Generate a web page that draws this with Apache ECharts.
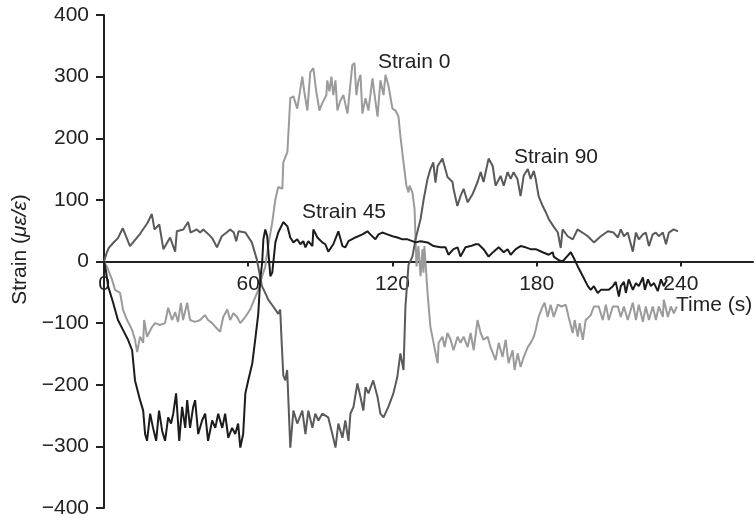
<!DOCTYPE html>
<html><head><meta charset="utf-8">
<script src="https://cdn.jsdelivr.net/npm/echarts@6/dist/echarts.min.js"></script>
<style>html,body{margin:0;padding:0;background:#fff}#c{width:755px;height:517px}</style>
</head><body><div id="c"></div>
<script>
// ---- data ----
const xTickValues = [0, 60, 120, 180, 240];
const seriesNames = ['Strain 0', 'Strain 90', 'Strain 45'];

const timeS0 = [0,1.2,3.3,4.6,6.7,7.9,9.6,11.7,12.9,13.8,15,16.3,16.7,17.9,20,21.3,23.3,25.4,26.7,28.3,29.6,30.8,32,32.9,34.6,35.8,37.9,40,42,43.3,45,46.3,48.3,49.6,51.3,52.5,53.8,55.4,56.7,58.8,60.8,62.5,64.2,65.8,67.1,68.3,70,71.3,72.5,74.2,74.6,76.3,77.5,78.8,80.4,82.5,83.3,84.6,85.8,87.1,88.3,89.6,90.8,92.5,92.9,93.8,94.6,95.4,96.3,97.1,98.3,99.6,101.3,103.3,104.2,105,105.8,106.7,107.5,108.8,110,111.7,112.1,113.8,115,116.3,117.1,118.3,120,121.3,122.5,123.3,124.6,125.8,126.7,127.1,128.3,129.2,130,130.8,131.7,132.5,132.9,133.3,134.6,135.8,137.1,138.8,139.2,140.8,141.7,142.9,144.2,145.4,147.1,148.3,149.6,151.3,152.5,153.8,155.4,156.7,157.9,159.6,160.8,162.9,164.2,165.8,167.1,168.3,170,170.8,172.1,173.3,174.6,176.3,177.5,178.8,179.6,180.8,182.5,183.3,184.6,185.8,187.1,188.8,190.4,192.1,193.3,195,195.8,197.1,197.9,199.2,200.4,202.5,203.8,205.8,207.5,208.8,210,211.7,213.8,215,216.3,217.9,220,221.3,222.5,224.2,225.4,226.7,228.3,229.6,230.8,232.5,232.9,234.6,235.8,237.1,238.3];
const valS0 = [0,-8,-29,-46,-51,-78,-95,-111,-127,-147,-122,-132,-95,-122,-106,-100,-103,-100,-75,-95,-82,-98,-67,-95,-67,-95,-98,-95,-87,-95,-100,-106,-114,-90,-78,-95,-84,-90,-100,-90,-78,-62,-46,-24,-8,25,64,101,121,118,161,178,265,268,248,300,276,245,307,314,276,245,257,270,294,276,300,270,294,245,261,270,240,319,322,270,292,303,240,265,245,297,284,235,294,270,303,286,248,245,235,204,161,123,112,123,112,85,-8,25,-24,20,-18,25,-51,-106,-132,-165,-132,-122,-139,-116,-127,-144,-122,-132,-122,-139,-116,-144,-95,-116,-127,-122,-139,-160,-132,-155,-127,-165,-144,-176,-149,-171,-155,-139,-132,-122,-111,-90,-73,-67,-90,-70,-90,-70,-73,-70,-90,-116,-95,-122,-100,-127,-95,-87,-73,-73,-95,-70,-95,-73,-73,-90,-73,-95,-67,-95,-70,-98,-73,-95,-73,-95,-73,-90,-62,-90,-73,-84,-73];

const timeS90 = [0,1.2,2,3.8,5.8,7.8,10.8,15,18,19.9,21,23,24.7,27.5,29.6,30.3,33,35,36,38.6,40,41.3,43.5,45,47,49,51,52.5,54,55,56,58.8,61.5,63.6,65.7,67.8,68.3,70.4,72.5,73.3,74,74.6,75.4,76.2,77.5,78.8,80.4,82.5,83.8,85,86.7,87.9,89.2,90.8,93.3,95,96.3,97.5,99.2,100.4,101.7,102.5,103.8,105.4,106.7,107.9,108.8,110,112,113.8,115,116.3,118.3,120.4,122,123.3,124.6,125.4,126.7,128.3,129.6,131.7,133,134.6,135.8,137,137.9,138.8,140.8,142.9,145,145.4,147,148.3,149.6,151.3,153.3,155.4,156.7,157.9,160,161.7,162.9,165,166.3,167.9,169.2,170.4,172,173.3,174.6,176.3,177.5,178.8,179.6,180.8,182.5,183.8,185,187,188.8,190,190.8,192.9,195,197,199,201.3,203.8,206.7,209.6,212,213.8,215,216.3,217.9,220,221.3,222.5,224.2,225.4,226.7,228.3,229.6,230.8,232.5,233.8,235,237,238.8];
const valS90 = [0,15,22,30,38,54,25,45,62,77,52,60,20,39,16,49,52,64,47,52,47,52,44,38,23,41,47,52,47,33,49,47,31,3,-40,-57,-62,-73,-85,-78,-138,-185,-193,-176,-302,-242,-263,-242,-280,-242,-270,-247,-258,-247,-253,-280,-302,-263,-286,-258,-291,-247,-236,-198,-220,-242,-204,-214,-193,-220,-247,-253,-236,-214,-188,-149,-176,-73,-5,8,36,69,101,134,150,161,128,155,167,137,129,118,90,106,118,96,109,129,145,129,167,155,123,139,123,145,134,145,134,106,139,150,134,147,134,106,90,80,69,57,47,22,52,41,36,52,47,41,31,41,49,47,39,52,41,47,16,47,36,44,47,25,44,47,41,47,28,47,52,49];

const timeS45 = [0,0.8,1.7,3.8,5.8,7.9,10,11.7,12.9,15,16.3,17.1,17.9,19.2,20.4,21.7,22.9,24.2,25.4,26.7,27.9,28.8,30,31.3,32.5,33.8,34.6,35.8,37.1,37.9,39.2,40.8,42.1,43.3,45,46.3,47.5,49.2,50.4,51.7,53.3,54.6,55.8,56.7,57.9,58.8,60,61.7,62.9,64.2,65,65.8,66.3,67.1,67.9,68.3,69.2,70,71.3,72.5,74.6,76.3,77.5,78.8,80.4,81.7,82.9,83.8,85,86.7,87.1,88.8,90.8,92.1,93.3,95.4,97.5,99.2,100.4,101.7,104.6,107.5,109.6,110.8,112.9,114.2,115.8,117.9,120,122.1,124.2,126.3,128.3,129.6,131.7,134.6,137.1,140,142.1,143.3,145.4,147.1,148.3,150.4,152.5,154.6,155.8,157.9,160,162.1,164.2,166.3,167.9,169.2,171.3,173.3,175.4,177.5,179.6,182.5,185,186.7,187.1,189.2,190.8,192.1,194.2,195.4,197.1,199.2,201.3,202.5,203.8,205.4,206.7,208.8,210,211.7,212.9,214.2,215,216.3,217.1,218.3,220,221.3,222.5,224.2,225,226.3,227.5,228.8,230.4,231.7,232.9,234.2];
const valS45 = [0,-15,-40,-67,-95,-111,-127,-144,-193,-225,-242,-280,-291,-247,-270,-291,-242,-275,-291,-253,-263,-247,-214,-291,-236,-270,-225,-270,-236,-225,-280,-258,-247,-291,-258,-270,-247,-270,-247,-286,-270,-280,-263,-302,-280,-214,-193,-165,-127,-84,-29,-2,36,52,41,20,-24,-18,31,47,64,57,39,31,36,28,33,23,33,25,52,39,31,28,16,28,49,25,23,33,39,44,49,44,36,44,47,44,41,39,36,36,33,31,33,31,25,23,23,11,20,23,8,23,25,28,28,20,8,16,23,15,20,11,20,25,23,20,20,15,11,15,8,2,0,6,15,6,-8,-24,-40,-46,-40,-51,-46,-46,-46,-40,-33,-57,-40,-33,-51,-29,-46,-35,-40,-26,-46,-29,-40,-35,-48,-29,-40,-29];

// ---- chart ----
const FONT = '"Liberation Sans", Arial, Helvetica, sans-serif';
const INK = '#222';
const FS = 21;
const pairs = (t, v) => t.map((x, i) => [x, v[i]]);
const chart = echarts.init(document.getElementById('c'), null, {renderer: 'canvas'});
const lineSeries = (name, t, v, color) => ({
  name, type: 'line', data: pairs(t, v), showSymbol: false, symbol: 'none',
  lineStyle: {color, width: 2}, itemStyle: {color}, smooth: false, z: 3
});
const GRID_TOP = 15, GRID_BOTTOM = 9, H = 517;
const gridH = H - GRID_TOP - GRID_BOTTOM;
chart.setOption({
  animation: false,
  backgroundColor: '#fff',
  grid: {left: 104, right: 2, top: GRID_TOP, bottom: GRID_BOTTOM, containLabel: false, outerBoundsMode: 'none'},
  xAxis: {
    type: 'value', min: 0, max: 270, interval: 60,
    offset: -gridH / 2,
    axisLine: {show: true, onZero: false, lineStyle: {color: INK, width: 2}},
    axisTick: {show: true, length: 5, customValues: xTickValues, lineStyle: {color: INK, width: 2}},
    axisLabel: {customValues: xTickValues, margin: 12, fontSize: FS, color: INK, fontFamily: FONT},
    splitLine: {show: false}
  },
  yAxis: {
    type: 'value', min: -400, max: 400, interval: 100,
    axisLine: {show: true, onZero: false, lineStyle: {color: INK, width: 2}},
    axisTick: {show: true, length: 8, lineStyle: {color: INK, width: 2}},
    axisLabel: {margin: 15, fontSize: FS, color: INK, fontFamily: FONT,
      formatter: v => v < 0 ? '\u2212' + Math.abs(v) : String(v)},
    splitLine: {show: false},
    name: '{a|Strain (}{b|\u03bc\u03b5/\u03b5}{a|)}',
    nameLocation: 'middle', nameGap: 70, nameRotate: 90,
    nameTextStyle: {
      padding: [0, 0, 0, 24],
      rich: {
        a: {fontSize: FS, color: INK, fontFamily: FONT},
        b: {fontSize: FS, color: INK, fontFamily: FONT, fontStyle: 'italic'}
      }
    }
  },
  series: [
    lineSeries(seriesNames[0], timeS0, valS0, '#9b9b9b'),
    lineSeries(seriesNames[1], timeS90, valS90, '#5a5a5a'),
    lineSeries(seriesNames[2], timeS45, valS45, '#1c1c1c')
  ],
  graphic: [
    {type: 'text', left: 378, top: 52, style: {text: seriesNames[0], fontSize: FS, fill: INK, fontFamily: FONT}},
    {type: 'text', left: 514, top: 147, style: {text: seriesNames[1], fontSize: FS, fill: INK, fontFamily: FONT}},
    {type: 'text', left: 302, top: 202, style: {text: seriesNames[2], fontSize: FS, fill: INK, fontFamily: FONT}},
    {type: 'text', left: 676, top: 295, style: {text: 'Time (s)', fontSize: FS, fill: INK, fontFamily: FONT}}
  ]
});
</script>
</body></html>
